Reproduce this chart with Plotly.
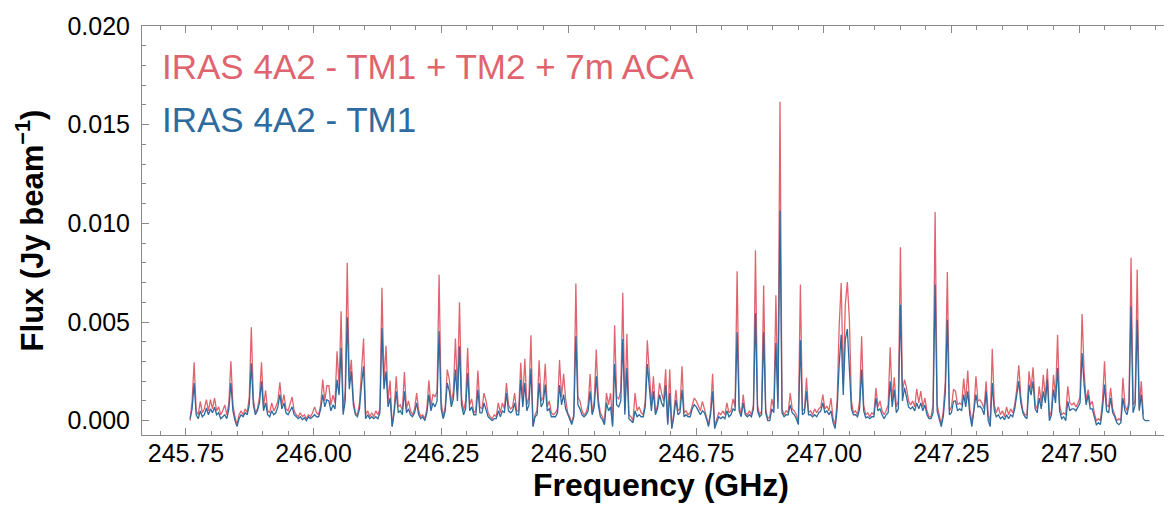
import plotly.graph_objects as go

# Spectral channel grid (GHz): uniform channels starting at FREQ_START
FREQ_START = 245.758
CHANNEL_WIDTH = 0.004

# Flux, in mJy beam^-1 (converted to Jy beam^-1 below)
flux_combined_mjy = [
    0.0, 1.0, 2.96, 0.5, 0.3, 0.98, 0.4, 0.6, 1.07, 0.5,
    1.07, 0.6, 1.15, 0.5, 0.7, 0.3, 0.5, 0.8, 0.3, 0.9,
    3.01, 0.8, 0.2, -0.2, 0.3, 0.5, 0.3, 0.6, 0.4, 1.2,
    4.73, 1.1, 0.4, 0.6, 1.2, 2.96, 0.7, 1.54, 0.5, 0.4,
    0.9, 0.5, 0.7, 1.0, 1.95, 0.8, 1.32, 0.6, 0.5, 0.8,
    1.2, 0.5, 0.3, 0.2, 0.4, 0.2, 0.3, 0.1, 0.3, 0.2,
    0.4, 0.7, 0.4, 0.3, 0.8, 2.08, 1.0, 1.77, 1.77, 0.8,
    1.3, 0.9, 3.52, 1.8, 5.55, 0.5, 1.5, 8.0, 2.0, 3.09,
    1.07, 0.4, 0.3, 0.9, 2.64, 4.16, 0.3, 0.5, 0.2, 0.4,
    0.2, 0.5, 0.3, 0.6, 6.73, 2.0, 3.8, 1.0, 2.03, -0.28,
    0.6, 2.25, 0.7, 0.8, 0.5, 2.47, 0.6, 1.0, 0.5, 0.3,
    0.6, 1.40, 0.5, 0.2, 0.3, 0.1, 0.6, 2.05, 0.7, 1.35,
    1.2, 1.5, 7.40, 1.0, 0.2, 0.7, 2.59, 2.1, 0.9, 1.5,
    4.16, 1.5, 6.0, 1.2, 0.5, 1.0, 3.69, 0.8, 1.1, 0.4,
    0.5, 2.54, 0.7, 0.6, 1.4, 1.0, 0.4, 0.2, 0.1, 0.3,
    0.2, 0.9, 0.4, 0.9, 0.6, 1.91, 0.8, 0.6, 0.7, 1.40,
    0.5, 0.5, 2.93, 1.0, 3.14, 0.8, 1.2, 4.33, -0.28, 0.3,
    0.5, 3.06, 1.0, 1.2, 2.88, 0.7, 1.0, 0.4, 0.3, 0.4,
    0.6, 3.08, 1.2, 2.37, 1.1, 0.4, 0.2, -0.1, 0.3, 6.95,
    1.2, 1.0, 0.5, 0.3, 0.4, 0.8, 2.37, 0.4, 1.0, 3.6,
    1.1, 0.4, 0.2, -0.1, 1.4, 0.8, 1.4, -0.2, 4.84, 1.2,
    1.1, 1.5, 6.48, 0.5, 4.41, 0.3, 0.2, 0.0, 1.4, 0.5,
    0.7, 0.4, 0.3, 1.0, 4.08, 2.4, 0.8, 2.25, 0.4, 0.8,
    1.91, 1.4, 1.0, 2.6, -0.1, 2.59, -0.37, 0.4, 1.57, 0.5,
    0.6, 2.76, 0.4, 0.5, 0.3, 0.4, 0.8, 1.15, 1.0, 0.7,
    0.5, 0.98, 0.6, 0.3, -0.2, 0.5, 2.38, -0.28, 0.1, 0.4,
    0.3, 0.5, 0.3, 0.9, 0.4, 0.5, 1.1, 0.7, 7.57, 0.8,
    0.3, 1.32, 0.4, 0.3, 0.5, 0.3, 0.8, 8.64, 0.8, 0.3,
    0.5, 6.85, 0.6, 0.1, 0.2, 1.1, 0.6, 6.36, 1.0, 16.16,
    0.6, 0.3, 0.5, 0.4, 1.4, 0.6, 0.5, 0.3, -0.1, 6.9,
    0.5, 0.6, 2.17, 0.4, 0.5, 0.3, 0.6, 0.4, 0.6, 0.7,
    1.32, 0.6, 0.74, 0.5, 1.15, 0.1, -0.2, 1.0, 4.79, 6.98,
    1.9, 5.88, 7.02, 5.12, 1.0, 0.4, 0.5, 0.3, 1.0, 4.28,
    0.8, 0.3, 0.4, 0.2, 0.4, 0.3, 1.66, 0.7, 1.0, 0.5,
    0.3, 0.5, 0.8, 3.72, 1.0, 2.2, 0.7, 1.0, 8.79, 1.5,
    2.08, 1.66, 1.0, 0.8, 1.0, 0.7, 1.62, 0.9, 1.5, 0.7,
    1.15, 0.5, 0.2, 0.2, 0.8, 10.58, 0.8, 0.3, -0.2, 0.5,
    2.0, 7.54, 0.5, 0.7, 1.57, 1.5, 0.8, 0.9, 0.8, 2.13,
    1.0, 2.54, 0.6, -0.1, 0.6, 2.25, 1.0, 1.06, 0.9, 0.6,
    2.0, 0.3, -0.1, 3.64, 0.8, 0.4, 0.7, 0.3, 0.5, 0.2,
    0.7, 0.3, 0.6, 0.4, 0.8, 1.6, 2.81, 1.2, 0.5, 0.3,
    0.3, 2.5, 1.6, 2.71, 0.8, 0.6, 1.74, 0.9, 2.33, 1.2,
    2.64, 0.2, 0.5, 2.33, 1.2, 4.36, 0.8, 0.3, 0.4, 0.3,
    1.74, 0.9, 0.8, 0.9, 0.7, 0.9, 1.2, 5.41, 2.5, 1.0,
    1.57, 0.8, 0.98, 0.4, 0.0, 0.1, 0.0, 1.0, 3.01, 0.8,
    0.7, 1.66, 0.6, 0.3, 0.0, 0.1, 0.0, 2.17, 0.8, 0.5,
    1.0, 8.25, 0.8, 1.0, 7.66, 0.6, 2.0, 0.3, None, None,
    None,
]

flux_tm1_mjy = [
    0.1, 0.6, 1.91, 0.3, 0.1, 0.49, 0.2, 0.3, 0.64, 0.3,
    0.6, 0.4, 0.68, 0.3, 0.4, 0.1, 0.2, 0.3, 0.1, 0.6,
    1.91, 0.5, 0.0, -0.3, 0.1, 0.3, 0.2, 0.4, 0.3, 0.8,
    2.91, 0.8, 0.3, 0.5, 0.9, 2.0, 0.5, 0.9, 0.3, 0.2,
    0.5, 0.3, 0.4, 0.7, 1.32, 0.6, 0.9, 0.4, 0.3, 0.5,
    0.7, 0.3, 0.2, 0.1, 0.2, 0.05, 0.15, 0.0, 0.2, 0.1,
    0.2, 0.3, 0.2, 0.2, 0.6, 1.32, 0.7, 1.06, 1.0, 0.5,
    0.8, 0.6, 2.08, 1.3, 3.69, 0.3, 1.0, 5.24, 1.6, 2.5,
    0.8, 0.3, 0.2, 0.6, 1.83, 2.76, 0.1, 0.3, 0.1, 0.2,
    0.1, 0.2, 0.1, 0.4, 4.70, 1.6, 2.5, 0.7, 1.15, -0.3,
    0.4, 1.49, 0.4, 0.5, 0.3, 1.49, 0.4, 0.6, 0.3, 0.2,
    0.4, 0.9, 0.3, 0.1, 0.2, 0.0, 0.4, 1.32, 0.5, 0.9,
    0.7, 1.0, 4.53, 0.6, 0.1, 0.5, 1.91, 1.5, 0.7, 1.1,
    2.59, 1.0, 3.77, 0.8, 0.3, 0.6, 2.42, 0.5, 0.7, 0.3,
    0.3, 1.57, 0.4, 0.4, 0.9, 0.6, 0.2, 0.1, 0.0, 0.1,
    0.1, 0.5, 0.2, 0.5, 0.4, 1.40, 0.5, 0.4, 0.5, 0.9,
    0.3, 0.3, 2.08, 0.7, 1.91, 0.5, 0.8, 2.64, -0.3, 0.2,
    0.3, 1.91, 0.7, 0.9, 1.83, 0.5, 0.6, 0.2, 0.2, 0.2,
    0.4, 1.80, 0.8, 1.32, 0.6, 0.3, 0.1, -0.2, 0.2, 4.28,
    0.8, 0.6, 0.3, 0.2, 0.3, 0.5, 1.49, 0.3, 0.7, 2.25,
    0.8, 0.2, 0.05, -0.2, 0.9, 0.5, 0.7, -0.3, 2.87, 0.8,
    0.7, 1.0, 4.14, 0.3, 2.67, 0.1, 0.0, -0.1, 0.5, 0.2,
    0.3, 0.2, 0.2, 0.7, 2.87, 1.6, 0.5, 1.49, 0.3, 0.6,
    1.32, 0.9, 0.7, 1.8, -0.2, 1.40, -0.4, 0.2, 1.06, 0.3,
    0.4, 1.57, 0.2, 0.3, 0.2, 0.2, 0.6, 0.81, 0.7, 0.5,
    0.3, 0.5, 0.4, 0.1, -0.3, 0.3, 1.49, -0.4, -0.1, 0.2,
    0.1, 0.2, 0.1, 0.5, 0.2, 0.3, 0.6, 0.5, 4.48, 0.5,
    0.2, 0.9, 0.3, 0.2, 0.3, 0.2, 0.6, 5.45, 0.5, 0.2,
    0.3, 4.48, 0.4, 0.0, 0.0, 0.6, 0.4, 3.94, 0.6, 10.65,
    0.4, 0.2, 0.3, 0.3, 0.8, 0.4, 0.3, 0.1, -0.2, 4.08,
    0.3, 0.4, 1.49, 0.3, 0.3, 0.2, 0.3, 0.2, 0.4, 0.5,
    0.9, 0.4, 0.5, 0.3, 0.5, -0.1, -0.4, 0.6, 2.84, 4.36,
    1.3, 4.11, 4.65, 2.84, 0.6, 0.3, 0.3, 0.2, 0.6, 2.59,
    0.5, 0.15, 0.2, 0.1, 0.2, 0.2, 1.15, 0.5, 0.6, 0.3,
    0.1, 0.3, 0.4, 2.0, 0.7, 1.57, 0.4, 0.6, 5.88, 1.0,
    1.66, 1.2, 0.7, 0.6, 0.7, 0.5, 0.9, 0.6, 0.9, 0.5,
    0.8, 0.3, 0.1, 0.1, 0.4, 6.9, 0.5, 0.1, -0.3, 0.2,
    1.4, 5.12, 0.3, 0.4, 0.98, 1.0, 0.5, 0.6, 0.5, 1.32,
    0.7, 1.49, 0.3, -0.3, 0.4, 1.32, 0.7, 0.73, 0.6, 0.3,
    1.49, 0.0, -0.3, 1.91, 0.5, 0.2, 0.3, 0.1, 0.2, 0.05,
    0.3, 0.1, 0.3, 0.2, 0.6, 1.2, 2.0, 0.9, 0.4, 0.2,
    0.1, 1.83, 1.3, 2.0, 0.6, 0.4, 1.15, 0.6, 1.49, 0.9,
    2.08, 0.0, 0.3, 1.57, 0.9, 2.67, 0.5, 0.1, 0.2, 0.0,
    0.98, 0.5, 0.6, 0.6, 0.5, 0.7, 0.9, 3.43, 1.8, 0.8,
    1.32, 0.6, 0.6, 0.2, -0.2, -0.1, -0.2, 0.6, 1.83, 0.5,
    0.4, 1.15, 0.4, 0.2, -0.1, -0.2, -0.1, 1.15, 0.5, 0.3,
    0.8, 5.80, 0.4, 0.8, 5.12, 0.5, 1.32, 0.1, 0.0, 0.0,
    0.0,
]

x_tick_values = [245.75, 246.00, 246.25, 246.50, 246.75, 247.00, 247.25, 247.50]
y_tick_values = [0.000, 0.005, 0.010, 0.015, 0.020]

label_combined = "IRAS 4A2 - TM1 + TM2 + 7m ACA"
label_tm1 = "IRAS 4A2 - TM1"
x_title = "<b>Frequency (GHz)</b>"
y_title = "<b>Flux (Jy beam<sup>\u22121</sup>)</b>"

RED = "#E0646E"
BLUE = "#2E6B9E"
AXIS = "#8a8a8a"
FONT = "Liberation Sans, Arial, Helvetica, sans-serif"

n = len(flux_tm1_mjy)
freq = [round(FREQ_START + CHANNEL_WIDTH * i, 3) for i in range(n)]
y_combined = [None if v is None else v * 1e-3 for v in flux_combined_mjy]
y_tm1 = [None if v is None else v * 1e-3 for v in flux_tm1_mjy]

fig = go.Figure()
fig.add_trace(go.Scatter(x=freq, y=y_combined, mode="lines", name=label_combined,
                         line=dict(color=RED, width=1.3), connectgaps=False))
fig.add_trace(go.Scatter(x=freq, y=y_tm1, mode="lines", name=label_tm1,
                         line=dict(color=BLUE, width=1.3)))

W, H = 1172, 507
L, R, T, B = 134, 0, 18, 80
plot_w = W - L - R
plot_h = H - T - B

def px_x(px):
    return (px - L) / plot_w

def px_y(py):
    return (H - B - py) / plot_h

fig.update_layout(
    width=W, height=H,
    margin=dict(l=L, r=R, t=T, b=B),
    paper_bgcolor="white", plot_bgcolor="white",
    showlegend=False,
    font=dict(family=FONT, color="black"),
)

fig.update_xaxes(
    range=[245.6638, 247.6979],
    tickmode="array", tickvals=x_tick_values,
    ticktext=[f"{v:.2f}" for v in x_tick_values],
    ticks="inside", ticklen=7, tickwidth=1, tickcolor=AXIS,
    minor=dict(ticks="inside", ticklen=4, tickcolor=AXIS, dtick=0.05, tick0=245.75, showgrid=False),
    showline=True, linecolor=AXIS, linewidth=1, mirror="ticks",
    showgrid=False, zeroline=False,
    tickfont=dict(size=25, family=FONT, color="black"),
    ticklabelstandoff=-4,
    title=dict(text=x_title, font=dict(size=32, family=FONT, color="black"), standoff=4),
    automargin=False,
)
fig.update_yaxes(
    range=[-0.000725, 0.020],
    tickmode="array", tickvals=y_tick_values,
    ticktext=[f"{v:.3f}" for v in y_tick_values],
    ticks="inside", ticklen=7, tickwidth=1, tickcolor=AXIS,
    minor=dict(ticks="inside", ticklen=4, tickcolor=AXIS, dtick=0.001, tick0=0, showgrid=False),
    showline=True, linecolor=AXIS, linewidth=1, mirror=False,
    showgrid=False, zeroline=False,
    tickfont=dict(size=25, family=FONT, color="black"),
    ticklabelstandoff=6,
    title=dict(text=y_title, font=dict(size=31, family=FONT, color="black"), standoff=14),
    automargin=False,
)

fig.add_annotation(text=label_combined, xref="paper", yref="paper",
                   x=px_x(152), y=px_y(58), xanchor="left", yanchor="middle",
                   showarrow=False, font=dict(size=35, family=FONT, color=RED))
fig.add_annotation(text=label_tm1, xref="paper", yref="paper",
                   x=px_x(152), y=px_y(112), xanchor="left", yanchor="middle",
                   showarrow=False, font=dict(size=35, family=FONT, color=BLUE))

fig.write_html("out.html")
